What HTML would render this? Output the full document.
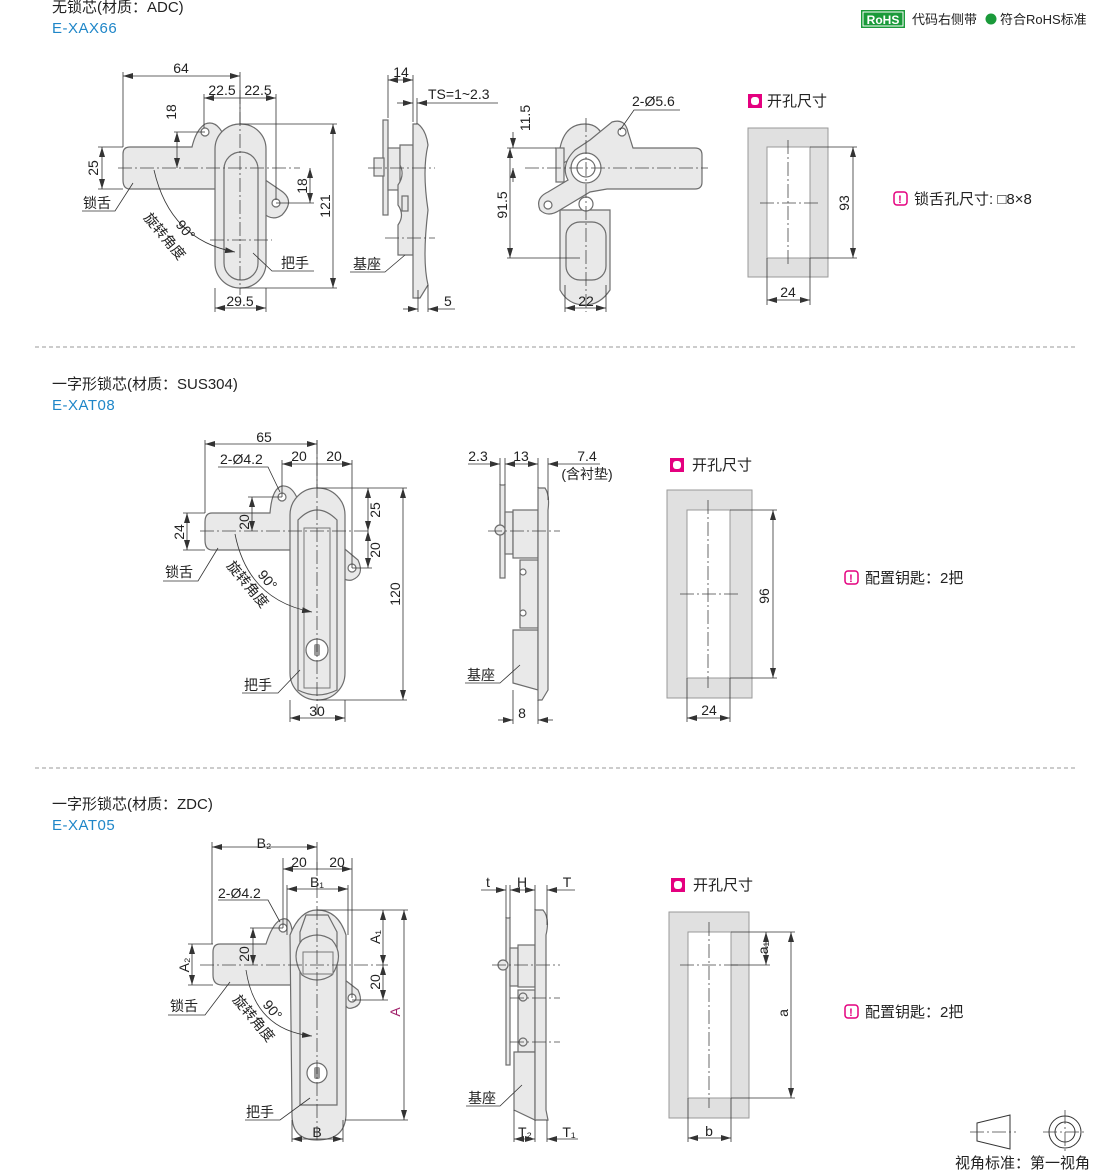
<!DOCTYPE html>
<html><head><meta charset="utf-8">
<style>
html,body{margin:0;padding:0;background:#fff;}
svg{display:block;font-family:"Liberation Sans","Noto Sans CJK SC",sans-serif;}
.p{fill:#e9e9e9;stroke:#6d6d6d;stroke-width:1.2}
.w{fill:#fff;stroke:#6d6d6d;stroke-width:1.2}
.d{stroke:#333;stroke-width:0.8;fill:none}
.c{stroke:#444;stroke-width:0.8;fill:none;stroke-dasharray:14 3 2 3}
.t{font-size:14px;fill:#222}
.tc{font-size:15px;fill:#222}
.b{font-size:15px;fill:#1f86c8;letter-spacing:0.5px}
.g{fill:#e0e0e0;fill-rule:evenodd;stroke:#999;stroke-width:1}
</style></head><body>
<svg width="1110" height="1176" viewBox="0 0 1110 1176" xmlns="http://www.w3.org/2000/svg">
<defs>
<marker id="a" markerWidth="10" markerHeight="6" refX="10" refY="3" orient="auto-start-reverse" markerUnits="userSpaceOnUse"><path d="M0,0 L10,3 L0,6 z" fill="#333"/></marker>
</defs>

<!-- header -->
<text x="52" y="12" class="tc">无锁芯(材质：ADC)</text>
<text x="52" y="33" class="b">E-XAX66</text>
<rect x="861" y="10" width="44" height="18" fill="#1a9a3a"/>
<rect x="863" y="12" width="40" height="14" fill="none" stroke="#fff" stroke-width="1"/>
<text x="883" y="24" font-size="12" font-weight="bold" fill="#fff" text-anchor="middle">RoHS</text>
<text x="912" y="24" font-size="13" fill="#222">代码右侧带</text>
<circle cx="991" cy="19" r="5.5" fill="#1a9a3a"/>
<text x="1000" y="24" font-size="13" fill="#222">符合RoHS标准</text>

<!-- ===== Section 1 ===== -->
<path class="p" d="M130,147 H192 Q196,130 205,124 Q215,120 222,132 L222,189 H130 Q123,189 123,180 V154 Q123,147 130,147 Z"/>
<circle cx="205" cy="132" r="4" class="w"/>
<path class="p" d="M258,175 L280,190 Q296,200 282,215 Q272,222 262,212 Z"/>
<circle cx="276" cy="203" r="4" class="w"/>
<rect x="215" y="124" width="51" height="164" rx="25" class="p"/>
<rect x="224" y="152" width="34" height="128" rx="17" class="p"/>
<line class="c" x1="240" y1="90" x2="240" y2="295"/>
<line class="c" x1="118" y1="168" x2="300" y2="168"/>
<line class="c" x1="210" y1="240" x2="272" y2="240"/>
<line class="d" x1="123" y1="72" x2="123" y2="147"/><line class="d" x1="240" y1="72" x2="240" y2="124"/>
<line class="d" x1="123" y1="76" x2="240" y2="76" marker-start="url(#a)" marker-end="url(#a)"/><text x="181" y="73" class="t" text-anchor="middle">64</text>
<line class="d" x1="204" y1="94" x2="204" y2="128"/><line class="d" x1="276" y1="94" x2="276" y2="200"/>
<line class="d" x1="204" y1="98" x2="276" y2="98" marker-start="url(#a)" marker-end="url(#a)"/>
<text x="222" y="95" class="t" text-anchor="middle">22.5</text><text x="258" y="95" class="t" text-anchor="middle">22.5</text>
<line class="d" x1="174" y1="132" x2="205" y2="132"/>
<line class="d" x1="177" y1="132" x2="177" y2="168" marker-start="url(#a)" marker-end="url(#a)"/>
<text x="176" y="112" class="t" transform="rotate(-90 176 112)" text-anchor="middle">18</text>
<line class="d" x1="98" y1="147" x2="123" y2="147"/><line class="d" x1="98" y1="189" x2="123" y2="189"/>
<line class="d" x1="102" y1="147" x2="102" y2="189" marker-start="url(#a)" marker-end="url(#a)"/>
<text x="98" y="168" class="t" transform="rotate(-90 98 168)" text-anchor="middle">25</text>
<line class="d" x1="276" y1="203" x2="314" y2="203"/>
<line class="d" x1="310" y1="168" x2="310" y2="203" marker-start="url(#a)" marker-end="url(#a)"/>
<text x="307" y="186" class="t" transform="rotate(-90 307 186)" text-anchor="middle">18</text>
<line class="d" x1="240" y1="124" x2="337" y2="124"/><line class="d" x1="240" y1="288" x2="337" y2="288"/>
<line class="d" x1="333" y1="124" x2="333" y2="288" marker-start="url(#a)" marker-end="url(#a)"/>
<text x="330" y="206" class="t" transform="rotate(-90 330 206)" text-anchor="middle">121</text>
<line class="d" x1="215" y1="288" x2="215" y2="312"/><line class="d" x1="266" y1="288" x2="266" y2="312"/>
<line class="d" x1="215" y1="308" x2="266" y2="308" marker-start="url(#a)" marker-end="url(#a)"/>
<text x="240" y="306" class="t" text-anchor="middle">29.5</text>
<path class="d" d="M82,211 H115 L133,183"/><text x="83" y="208" class="t">锁舌</text>
<path class="d" d="M154,170 Q170,240 235,252" marker-end="url(#a)"/>
<text x="175" y="225" class="t" transform="rotate(50 175 225)">90°</text>
<text x="143" y="218" class="t" transform="rotate(50 143 218)">旋转角度</text>
<path class="d" d="M253,253 L272,271 H314"/><text x="281" y="268" class="t">把手</text>
<!-- side view 1 -->
<rect x="383" y="120" width="5" height="95" class="p"/>
<rect x="388" y="148" width="12" height="42" class="p"/>
<rect x="374" y="158" width="10" height="18" class="p"/>
<path class="p" d="M400,145 H413 V255 H398 V225 Q405,215 398,205 V185 Q405,175 400,165 Z"/>
<rect x="402" y="196" width="6" height="15" class="p"/>
<path class="p" d="M413,124 H418 Q426,130 428,145 Q422,170 428,210 Q422,260 428,285 L420,298 H413 Z"/>
<line class="c" x1="368" y1="168" x2="435" y2="168"/>
<line class="c" x1="385" y1="238" x2="435" y2="238"/>
<line class="d" x1="388" y1="75" x2="388" y2="118"/><line class="d" x1="413" y1="75" x2="413" y2="122"/>
<line class="d" x1="388" y1="80" x2="413" y2="80" marker-start="url(#a)" marker-end="url(#a)"/>
<text x="401" y="77" class="t" text-anchor="middle">14</text>
<line class="d" x1="397" y1="103" x2="413" y2="103" marker-end="url(#a)"/>
<line class="d" x1="417" y1="103" x2="498" y2="103" marker-start="url(#a)"/>
<line class="d" x1="417" y1="98" x2="417" y2="124"/>
<text x="428" y="99" class="t">TS=1~2.3</text>
<line class="d" x1="418" y1="290" x2="418" y2="312"/><line class="d" x1="428" y1="285" x2="428" y2="312"/>
<line class="d" x1="403" y1="309" x2="418" y2="309" marker-end="url(#a)"/>
<line class="d" x1="428" y1="309" x2="455" y2="309" marker-start="url(#a)"/>
<text x="444" y="306" class="t">5</text>
<path class="d" d="M350,272 H385 L405,255"/><text x="353" y="269" class="t">基座</text>
<!-- back view 1 -->
<path class="p" d="M560,148 Q565,124 585,124 Q600,124 604,140 L560,165 Z"/>
<path class="p" d="M560,210 H610 V290 Q600,305 585,305 Q568,305 560,290 Z"/>
<rect x="566" y="222" width="40" height="58" rx="14" class="p"/>
<path class="p" d="M590,140 L612,122 Q625,118 628,132 L633,148 H695 Q702,148 702,155 V182 Q702,189 695,189 H607 L590,192 L560,210 Q548,218 540,210 Q535,198 548,192 L568,180 Q560,165 575,150 Z"/>
<circle cx="586" cy="168" r="15" class="w"/><circle cx="586" cy="168" r="9" class="w"/>
<rect x="556" y="148" width="8" height="34" class="p"/>
<circle cx="586" cy="204" r="7" class="w"/>
<circle cx="622" cy="132" r="4" class="w"/><circle cx="548" cy="205" r="4" class="w"/>
<line class="c" x1="586" y1="118" x2="586" y2="312"/>
<line class="c" x1="525" y1="168" x2="708" y2="168"/>
<line class="d" x1="507" y1="148" x2="556" y2="148"/><line class="d" x1="507" y1="258" x2="580" y2="258"/>
<line class="d" x1="513" y1="132" x2="513" y2="148" marker-end="url(#a)"/>
<line class="d" x1="513" y1="168" x2="513" y2="182" marker-start="url(#a)"/>
<text x="530" y="118" class="t" transform="rotate(-90 530 118)" text-anchor="middle">11.5</text>
<line class="d" x1="510" y1="148" x2="510" y2="258" marker-start="url(#a)" marker-end="url(#a)"/>
<text x="507" y="205" class="t" transform="rotate(-90 507 205)" text-anchor="middle">91.5</text>
<line class="d" x1="565" y1="285" x2="565" y2="312"/><line class="d" x1="606" y1="285" x2="606" y2="312"/>
<line class="d" x1="565" y1="308" x2="606" y2="308" marker-start="url(#a)" marker-end="url(#a)"/>
<text x="586" y="306" class="t" text-anchor="middle">22</text>
<path class="d" d="M620,130 L634,110 H680"/><text x="632" y="106" class="t">2-Ø5.6</text>
<!-- cutout 1 -->
<rect x="748" y="94" width="14" height="14" fill="#e4007f"/><rect x="751" y="97" width="8" height="8" rx="3" fill="#fff"/>
<text x="767" y="106" class="tc">开孔尺寸</text>
<path class="g" d="M748,128 H828 V277 H748 Z M767,147 V258 H810 V147 Z"/>
<line class="c" x1="788" y1="140" x2="788" y2="265"/><line class="c" x1="760" y1="203" x2="818" y2="203"/>
<line class="d" x1="810" y1="147" x2="857" y2="147"/><line class="d" x1="810" y1="258" x2="857" y2="258"/>
<line class="d" x1="853" y1="147" x2="853" y2="258" marker-start="url(#a)" marker-end="url(#a)"/>
<text x="849" y="203" class="t" transform="rotate(-90 849 203)" text-anchor="middle">93</text>
<line class="d" x1="767" y1="258" x2="767" y2="305"/><line class="d" x1="810" y1="258" x2="810" y2="305"/>
<line class="d" x1="767" y1="300" x2="810" y2="300" marker-start="url(#a)" marker-end="url(#a)"/>
<text x="788" y="297" class="t" text-anchor="middle">24</text>
<rect x="894" y="192" width="13" height="13" rx="3" fill="#fff" stroke="#e4007f" stroke-width="1.5"/><text x="900" y="203" font-size="11" font-weight="bold" fill="#e4007f" text-anchor="middle">!</text>
<text x="914" y="204" class="tc">锁舌孔尺寸: □8×8</text>

<line x1="35" y1="347" x2="1078" y2="347" stroke="#999" stroke-dasharray="4 3"/>

<!-- ===== Section 2 ===== -->
<text x="52" y="389" class="tc">一字形锁芯(材质：SUS304)</text>
<text x="52" y="410" class="b">E-XAT08</text>
<path class="p" d="M212,513 H270 Q272,488 282,486 Q292,485 298,500 V550 H212 Q205,550 205,540 V522 Q205,513 212,513 Z"/>
<circle cx="282" cy="497" r="4" class="w"/>
<path class="p" d="M340,545 L358,560 Q365,575 352,580 Q342,582 340,570 Z"/>
<circle cx="352" cy="568" r="4" class="w"/>
<rect x="290" y="488" width="55" height="212" rx="27" class="p"/>
<path class="p" d="M298,520 Q317,500 337,520 V690 Q317,700 298,690 Z"/>
<rect x="304" y="528" width="26" height="160" fill="#e9e9e9" stroke="#777"/>
<circle cx="317" cy="650" r="11" class="w"/><rect x="314" y="644" width="6" height="12" rx="2" fill="#999"/>
<line class="c" x1="317" y1="440" x2="317" y2="715"/>
<line class="c" x1="200" y1="531" x2="370" y2="531"/>
<line class="d" x1="205" y1="440" x2="205" y2="513"/><line class="d" x1="317" y1="440" x2="317" y2="488"/>
<line class="d" x1="205" y1="444" x2="317" y2="444" marker-start="url(#a)" marker-end="url(#a)"/>
<text x="264" y="442" class="t" text-anchor="middle">65</text>
<line class="d" x1="282" y1="460" x2="282" y2="497"/><line class="d" x1="352" y1="460" x2="352" y2="568"/>
<line class="d" x1="282" y1="464" x2="352" y2="464" marker-start="url(#a)" marker-end="url(#a)"/>
<text x="299" y="461" class="t" text-anchor="middle">20</text><text x="334" y="461" class="t" text-anchor="middle">20</text>
<path class="d" d="M218,467 H268 L280,492"/><text x="220" y="464" class="t">2-Ø4.2</text>
<line class="d" x1="248" y1="497" x2="282" y2="497"/>
<line class="d" x1="252" y1="497" x2="252" y2="531" marker-start="url(#a)" marker-end="url(#a)"/>
<text x="249" y="522" class="t" transform="rotate(-90 249 522)" text-anchor="middle">20</text>
<line class="d" x1="183" y1="513" x2="205" y2="513"/><line class="d" x1="183" y1="550" x2="205" y2="550"/>
<line class="d" x1="187" y1="513" x2="187" y2="550" marker-start="url(#a)" marker-end="url(#a)"/>
<text x="184" y="532" class="t" transform="rotate(-90 184 532)" text-anchor="middle">24</text>
<line class="d" x1="317" y1="488" x2="407" y2="488"/><line class="d" x1="352" y1="568" x2="372" y2="568"/><line class="d" x1="317" y1="700" x2="407" y2="700"/>
<line class="d" x1="368" y1="488" x2="368" y2="531" marker-start="url(#a)" marker-end="url(#a)"/>
<text x="380" y="510" class="t" transform="rotate(-90 380 510)" text-anchor="middle">25</text>
<line class="d" x1="368" y1="531" x2="368" y2="568" marker-start="url(#a)" marker-end="url(#a)"/>
<text x="380" y="550" class="t" transform="rotate(-90 380 550)" text-anchor="middle">20</text>
<line class="d" x1="403" y1="488" x2="403" y2="700" marker-start="url(#a)" marker-end="url(#a)"/>
<text x="400" y="594" class="t" transform="rotate(-90 400 594)" text-anchor="middle">120</text>
<line class="d" x1="290" y1="700" x2="290" y2="722"/><line class="d" x1="345" y1="700" x2="345" y2="722"/>
<line class="d" x1="290" y1="718" x2="345" y2="718" marker-start="url(#a)" marker-end="url(#a)"/>
<text x="317" y="716" class="t" text-anchor="middle">30</text>
<path class="d" d="M163,581 H198 L218,548"/><text x="165" y="577" class="t">锁舌</text>
<path class="d" d="M235,534 Q248,600 312,612" marker-end="url(#a)"/>
<text x="257" y="575" class="t" transform="rotate(50 257 575)">90°</text>
<text x="226" y="566" class="t" transform="rotate(50 226 566)">旋转角度</text>
<path class="d" d="M242,693 H278 L300,670"/><text x="244" y="690" class="t">把手</text>
<!-- side 2 -->
<rect x="500" y="485" width="5" height="93" class="p"/>
<rect x="505" y="512" width="8" height="42" class="p"/>
<circle cx="500" cy="530" r="5" class="p"/>
<rect x="513" y="510" width="25" height="48" class="p"/>
<rect x="520" y="560" width="18" height="68" class="p"/>
<circle cx="523" cy="572" r="3" class="w"/><circle cx="523" cy="613" r="3" class="w"/>
<path class="p" d="M513,630 H538 V690 L513,683 Z"/>
<path class="p" d="M538,488 H545 Q550,495 548,510 V690 L542,700 H538 Z"/>
<line class="c" x1="488" y1="531" x2="560" y2="531"/>
<line class="d" x1="500" y1="458" x2="500" y2="485"/><line class="d" x1="505" y1="458" x2="505" y2="485"/><line class="d" x1="538" y1="458" x2="538" y2="488"/><line class="d" x1="548" y1="458" x2="548" y2="500"/>
<line class="d" x1="468" y1="464" x2="500" y2="464" marker-end="url(#a)"/>
<line class="d" x1="505" y1="464" x2="538" y2="464" marker-start="url(#a)" marker-end="url(#a)"/>
<line class="d" x1="548" y1="464" x2="600" y2="464" marker-start="url(#a)"/>
<text x="478" y="461" class="t" text-anchor="middle">2.3</text><text x="521" y="461" class="t" text-anchor="middle">13</text>
<text x="587" y="461" class="t" text-anchor="middle">7.4</text><text x="587" y="479" class="t" text-anchor="middle">(含衬垫)</text>
<line class="d" x1="513" y1="690" x2="513" y2="724"/><line class="d" x1="538" y1="700" x2="538" y2="724"/>
<line class="d" x1="498" y1="720" x2="513" y2="720" marker-end="url(#a)"/>
<line class="d" x1="538" y1="720" x2="553" y2="720" marker-start="url(#a)"/>
<text x="522" y="718" class="t" text-anchor="middle">8</text>
<path class="d" d="M465,683 H500 L520,665"/><text x="467" y="680" class="t">基座</text>
<!-- cutout 2 -->
<rect x="670" y="458" width="14" height="14" fill="#e4007f"/><rect x="673" y="461" width="8" height="8" rx="3" fill="#fff"/>
<text x="692" y="470" class="tc">开孔尺寸</text>
<path class="g" d="M667,490 H752 V698 H667 Z M687,510 V678 H730 V510 Z"/>
<line class="c" x1="708" y1="500" x2="708" y2="688"/><line class="c" x1="680" y1="594" x2="740" y2="594"/>
<line class="d" x1="730" y1="510" x2="777" y2="510"/><line class="d" x1="730" y1="678" x2="777" y2="678"/>
<line class="d" x1="773" y1="510" x2="773" y2="678" marker-start="url(#a)" marker-end="url(#a)"/>
<text x="769" y="596" class="t" transform="rotate(-90 769 596)" text-anchor="middle">96</text>
<line class="d" x1="687" y1="678" x2="687" y2="722"/><line class="d" x1="730" y1="678" x2="730" y2="722"/>
<line class="d" x1="687" y1="718" x2="730" y2="718" marker-start="url(#a)" marker-end="url(#a)"/>
<text x="709" y="715" class="t" text-anchor="middle">24</text>
<rect x="845" y="571" width="13" height="13" rx="3" fill="#fff" stroke="#e4007f" stroke-width="1.5"/><text x="851" y="582" font-size="11" font-weight="bold" fill="#e4007f" text-anchor="middle">!</text>
<text x="865" y="583" class="tc">配置钥匙：2把</text>

<line x1="35" y1="768" x2="1078" y2="768" stroke="#999" stroke-dasharray="4 3"/>

<!-- ===== Section 3 ===== -->
<text x="52" y="809" class="tc">一字形锁芯(材质：ZDC)</text>
<text x="52" y="830" class="b">E-XAT05</text>
<path class="p" d="M220,944 H266 Q272,925 280,920 Q290,915 292,930 V985 H222 Q213,985 213,975 V952 Q213,944 220,944 Z"/>
<circle cx="283" cy="928" r="4" class="w"/>
<path class="p" d="M345,980 L358,990 Q365,1005 352,1008 Q345,1010 345,1000 Z"/>
<circle cx="352" cy="998" r="4" class="w"/>
<path class="p" d="M290,935 Q300,910 317,910 Q338,910 346,935 V1115 Q345,1140 317,1140 Q292,1140 292,1115 Z"/>
<path class="p" d="M300,932 L306,915 H328 L337,932 V1105 H300 Z"/>
<path class="p" d="M302,940 Q317,930 332,940 Q345,955 332,975 Q317,985 302,975 Q290,955 302,940 Z"/>
<rect x="303" y="952" width="30" height="22" fill="#e9e9e9" stroke="#777"/>
<circle cx="317" cy="1073" r="10" class="w"/><rect x="314" y="1067" width="6" height="12" rx="2" fill="#999"/>
<line class="c" x1="317" y1="862" x2="317" y2="1142"/>
<line class="c" x1="200" y1="965" x2="388" y2="965"/>
<line class="d" x1="212" y1="842" x2="212" y2="944"/><line class="d" x1="317" y1="842" x2="317" y2="870"/>
<line class="d" x1="212" y1="847" x2="317" y2="847" marker-start="url(#a)" marker-end="url(#a)"/>
<text x="264" y="848" class="t" text-anchor="middle">B₂</text>
<line class="d" x1="283" y1="858" x2="283" y2="928"/><line class="d" x1="352" y1="858" x2="352" y2="998"/>
<line class="d" x1="283" y1="869" x2="352" y2="869" marker-start="url(#a)" marker-end="url(#a)"/>
<text x="299" y="867" class="t" text-anchor="middle">20</text><text x="337" y="867" class="t" text-anchor="middle">20</text>
<line class="d" x1="287" y1="885" x2="287" y2="935"/><line class="d" x1="348" y1="885" x2="348" y2="935"/>
<line class="d" x1="287" y1="889" x2="348" y2="889" marker-start="url(#a)" marker-end="url(#a)"/>
<text x="317" y="887" class="t" text-anchor="middle">B₁</text>
<path class="d" d="M218,900 H268 L280,922"/><text x="218" y="898" class="t">2-Ø4.2</text>
<line class="d" x1="250" y1="928" x2="283" y2="928"/>
<line class="d" x1="253" y1="928" x2="253" y2="965" marker-start="url(#a)" marker-end="url(#a)"/>
<text x="249" y="954" class="t" transform="rotate(-90 249 954)" text-anchor="middle">20</text>
<line class="d" x1="188" y1="944" x2="213" y2="944"/><line class="d" x1="188" y1="985" x2="213" y2="985"/>
<line class="d" x1="192" y1="944" x2="192" y2="985" marker-start="url(#a)" marker-end="url(#a)"/>
<text x="189" y="965" class="t" transform="rotate(-90 189 965)" text-anchor="middle">A₂</text>
<line class="d" x1="317" y1="910" x2="408" y2="910"/><line class="d" x1="352" y1="1000" x2="388" y2="1000"/><line class="d" x1="345" y1="1120" x2="408" y2="1120"/>
<line class="d" x1="383" y1="910" x2="383" y2="965" marker-start="url(#a)" marker-end="url(#a)"/>
<text x="380" y="937" class="t" transform="rotate(-90 380 937)" text-anchor="middle">A₁</text>
<line class="d" x1="383" y1="965" x2="383" y2="1000" marker-start="url(#a)" marker-end="url(#a)"/>
<text x="380" y="982" class="t" transform="rotate(-90 380 982)" text-anchor="middle">20</text>
<line class="d" x1="404" y1="910" x2="404" y2="1120" marker-start="url(#a)" marker-end="url(#a)"/>
<text x="400" y="1012" font-size="14" fill="#a0206a" transform="rotate(-90 400 1012)" text-anchor="middle">A</text>
<line class="d" x1="292" y1="1120" x2="292" y2="1142"/><line class="d" x1="343" y1="1120" x2="343" y2="1142"/>
<line class="d" x1="292" y1="1139" x2="343" y2="1139" marker-start="url(#a)" marker-end="url(#a)"/>
<text x="317" y="1137" class="t" text-anchor="middle">B</text>
<path class="d" d="M168,1015 H205 L230,982"/><text x="170" y="1011" class="t">锁舌</text>
<path class="d" d="M246,970 Q255,1030 312,1036" marker-end="url(#a)"/>
<text x="262" y="1005" class="t" transform="rotate(50 262 1005)">90°</text>
<text x="232" y="1000" class="t" transform="rotate(50 232 1000)">旋转角度</text>
<path class="d" d="M245,1120 H280 L310,1098"/><text x="246" y="1117" class="t">把手</text>
<!-- side 3 -->
<rect x="506" y="918" width="4" height="147" class="p"/>
<circle cx="503" cy="965" r="5" class="p"/>
<rect x="510" y="948" width="8" height="38" class="p"/>
<rect x="518" y="945" width="17" height="42" class="p"/>
<rect x="518" y="990" width="17" height="62" class="p"/>
<circle cx="523" cy="997" r="4" class="p"/><circle cx="523" cy="1042" r="4" class="p"/>
<path class="p" d="M514,1052 H535 V1120 L514,1110 Z"/>
<path class="p" d="M535,910 H543 Q550,918 546,935 V1110 L548,1120 H535 Z"/>
<line class="c" x1="492" y1="965" x2="560" y2="965"/>
<line class="c" x1="510" y1="998" x2="560" y2="998"/><line class="c" x1="510" y1="1042" x2="560" y2="1042"/>
<line class="d" x1="506" y1="885" x2="506" y2="918"/><line class="d" x1="510" y1="885" x2="510" y2="918"/><line class="d" x1="535" y1="885" x2="535" y2="910"/><line class="d" x1="547" y1="885" x2="547" y2="925"/>
<line class="d" x1="481" y1="890" x2="506" y2="890" marker-end="url(#a)"/>
<line class="d" x1="510" y1="890" x2="535" y2="890" marker-start="url(#a)" marker-end="url(#a)"/>
<line class="d" x1="547" y1="890" x2="575" y2="890" marker-start="url(#a)"/>
<text x="488" y="887" class="t" text-anchor="middle">t</text><text x="522" y="887" class="t" text-anchor="middle">H</text><text x="567" y="887" class="t" text-anchor="middle">T</text>
<line class="d" x1="514" y1="1110" x2="514" y2="1142"/><line class="d" x1="535" y1="1120" x2="535" y2="1142"/><line class="d" x1="547" y1="1120" x2="547" y2="1142"/>
<line class="d" x1="514" y1="1139" x2="535" y2="1139" marker-start="url(#a)" marker-end="url(#a)"/>
<line class="d" x1="547" y1="1139" x2="578" y2="1139" marker-start="url(#a)"/>
<text x="525" y="1137" class="t" text-anchor="middle">T₂</text><text x="569" y="1137" class="t" text-anchor="middle">T₁</text>
<path class="d" d="M466,1106 H500 L522,1085"/><text x="468" y="1103" class="t">基座</text>
<!-- cutout 3 -->
<rect x="671" y="878" width="14" height="14" fill="#e4007f"/><rect x="674" y="881" width="8" height="8" rx="3" fill="#fff"/>
<text x="693" y="890" class="tc">开孔尺寸</text>
<path class="g" d="M669,912 H749 V1118 H669 Z M688,932 V1098 H731 V932 Z"/>
<line class="c" x1="709" y1="922" x2="709" y2="1108"/><line class="c" x1="680" y1="965" x2="740" y2="965"/>
<line class="d" x1="731" y1="932" x2="795" y2="932"/><line class="d" x1="731" y1="965" x2="770" y2="965"/><line class="d" x1="731" y1="1098" x2="795" y2="1098"/>
<line class="d" x1="766" y1="932" x2="766" y2="965" marker-start="url(#a)" marker-end="url(#a)"/>
<text x="768" y="948" class="t" transform="rotate(-90 768 948)" text-anchor="middle">a₁</text>
<line class="d" x1="791" y1="932" x2="791" y2="1098" marker-start="url(#a)" marker-end="url(#a)"/>
<text x="788" y="1013" class="t" transform="rotate(-90 788 1013)" text-anchor="middle">a</text>
<line class="d" x1="688" y1="1098" x2="688" y2="1142"/><line class="d" x1="731" y1="1098" x2="731" y2="1142"/>
<line class="d" x1="688" y1="1138" x2="731" y2="1138" marker-start="url(#a)" marker-end="url(#a)"/>
<text x="709" y="1136" class="t" text-anchor="middle">b</text>
<rect x="845" y="1005" width="13" height="13" rx="3" fill="#fff" stroke="#e4007f" stroke-width="1.5"/><text x="851" y="1016" font-size="11" font-weight="bold" fill="#e4007f" text-anchor="middle">!</text>
<text x="865" y="1017" class="tc">配置钥匙：2把</text>

<!-- projection symbol -->
<path d="M977,1123 L1010,1115 V1149 L977,1141 Z" fill="none" stroke="#333" stroke-width="1"/>
<line class="c" x1="970" y1="1132" x2="1016" y2="1132"/>
<circle cx="1065" cy="1132" r="16" fill="none" stroke="#333"/>
<circle cx="1065" cy="1132" r="10" fill="none" stroke="#333"/>
<line class="c" x1="1043" y1="1132" x2="1087" y2="1132"/><line class="c" x1="1065" y1="1110" x2="1065" y2="1154"/>
<text x="955" y="1168" class="tc">视角标准：第一视角</text>
</svg>
</body></html>
